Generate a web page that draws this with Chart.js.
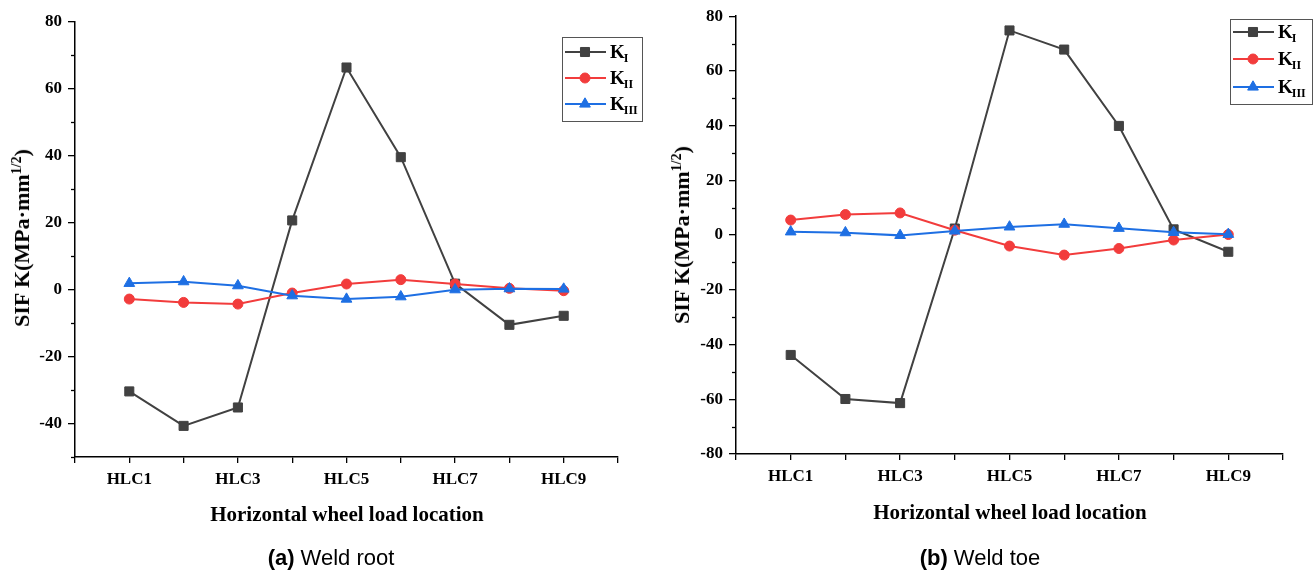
<!DOCTYPE html>
<html><head><meta charset="utf-8">
<script src="https://cdn.jsdelivr.net/npm/chart.js@4.4.0/dist/chart.umd.min.js"></script>
<style>
html,body{margin:0;padding:0;background:#fff;width:1315px;height:574px;overflow:hidden;}
.panel{position:absolute;top:0;height:574px;}
#pa{left:0;width:657px;}
#pb{left:660px;width:655px;}
canvas{position:absolute;left:0;top:0;}
.ytitle{position:absolute;font-family:"Liberation Serif",serif;font-weight:bold;font-size:22px;white-space:nowrap;transform:translate(-50%,-50%) rotate(-90deg);color:#000;}
.ytitle sup{font-size:14px;vertical-align:8px;line-height:0;}
.xtitle{position:absolute;font-family:"Liberation Serif",serif;font-weight:bold;font-size:21px;white-space:nowrap;transform:translate(-50%,-50%);color:#000;}
.cap{position:absolute;font-family:"Liberation Sans",Arial,sans-serif;font-size:22px;white-space:nowrap;transform:translate(-50%,-50%);color:#000;}
.cap b{margin-right:6px;}
</style>
</head><body>
<div class="panel" id="pa">
  <canvas id="ca" width="657" height="574"></canvas>
  <div class="ytitle" style="left:22px;top:238px;">SIF K(MPa·mm<sup>1/2</sup>)</div>
  <div class="xtitle" style="left:347px;top:514px;">Horizontal wheel load location</div>
  <div class="cap" style="left:331px;top:558px;"><b>(a)</b>Weld root</div>
</div>
<div class="panel" id="pb">
  <canvas id="cb" width="655" height="574"></canvas>
  <div class="ytitle" style="left:22px;top:235px;">SIF K(MPa·mm<sup>1/2</sup>)</div>
  <div class="xtitle" style="left:350px;top:512px;">Horizontal wheel load location</div>
  <div class="cap" style="left:320px;top:558px;"><b>(b)</b>Weld toe</div>
</div>
<script>
// ---- data ----
const categories = ['HLC1','HLC2','HLC3','HLC4','HLC5','HLC6','HLC7','HLC8','HLC9'];
const seriesNames = ['KI','KII','KIII'];
const seriesSubs = ['I','II','III'];
const rootKI   = [-30.4, -40.7, -35.2, 20.7, 66.4, 39.6, 1.8, -10.5, -7.8];
const rootKII  = [-2.8, -3.8, -4.3, -1.0, 1.7, 3.0, 1.7, 0.4, -0.3];
const rootKIII = [1.9, 2.4, 1.2, -1.8, -2.8, -2.1, 0.0, 0.3, 0.2];
const toeKI    = [-43.8, -59.9, -61.4, 2.4, 74.8, 67.8, 39.9, 2.1, -6.1];
const toeKII   = [5.5, 7.5, 8.1, 1.8, -4.0, -7.3, -4.9, -1.8, 0.2];
const toeKIII  = [1.2, 0.9, -0.1, 1.5, 3.0, 4.0, 2.5, 1.0, 0.3];
const rootYTicks = [-40, -20, 0, 20, 40, 60, 80];
const toeYTicks  = [-80, -60, -40, -20, 0, 20, 40, 60, 80];

// ---- styles ----
const colors = ['#414141', '#f23c3c', '#1e6fe3'];
const styles = ['rect', 'circle', 'triangle'];
const radii = [6.4, 5, 6.2];

function toPoints(arr){ return arr.map((v,i)=>({x:i+1, y:v})); }

function makeDatasets(a,b,c){
  return [a,b,c].map((arr,i)=>({
    label: seriesNames[i],
    sub: seriesSubs[i],
    data: toPoints(arr),
    borderColor: colors[i],
    backgroundColor: colors[i],
    pointBackgroundColor: colors[i],
    pointBorderColor: colors[i],
    pointStyle: styles[i],
    pointRadius: radii[i],
    pointBorderWidth: 1,
    borderWidth: 2,
    tension: 0,
    order: 3 - i
  }));
}

const legendPlugin = {
  id: 'kLegend',
  afterDraw(chart, args, o){
    const ctx = chart.ctx;
    ctx.save();
    ctx.strokeStyle = '#555';
    ctx.lineWidth = 1;
    ctx.strokeRect(o.x + 0.5, o.y + 0.5, o.w, o.h);
    chart.data.datasets.forEach((ds, i) => {
      const cy = o.y + o.rows[i];
      ctx.strokeStyle = ds.borderColor;
      ctx.fillStyle = ds.borderColor;
      ctx.lineWidth = 2;
      ctx.beginPath();
      ctx.moveTo(o.x + 3, cy);
      ctx.lineTo(o.x + 44, cy);
      ctx.stroke();
      ctx.lineWidth = 1;
      Chart.helpers.drawPoint(ctx, {pointStyle: ds.pointStyle, radius: ds.pointRadius, rotation: 0, borderWidth: 1}, o.x + 23, cy);
      ctx.fillStyle = '#000';
      ctx.textBaseline = 'alphabetic';
      ctx.textAlign = 'left';
      ctx.font = 'bold 19px "Liberation Serif"';
      ctx.fillText('K', o.x + 48, cy + 6);
      const kw = ctx.measureText('K').width;
      ctx.font = 'bold 12px "Liberation Serif"';
      ctx.fillText(ds.sub, o.x + 48 + kw - 1, cy + 10);
    });
    ctx.restore();
  }
};

// short minor ticks on the y axis between labelled ticks
const minorTickPlugin = {
  id: 'minorTicks',
  afterDraw(chart){
    const s = chart.scales.y;
    const ctx = chart.ctx;
    const left = chart.chartArea.left;
    ctx.save();
    ctx.strokeStyle = '#000';
    ctx.lineWidth = 1.3;
    for (let v = s.min; v <= s.max; v += 10){
      if (v % 20 === 0) continue;
      const py = Math.round(s.getPixelForValue(v)) + 0.5;
      ctx.beginPath();
      ctx.moveTo(left - 4, py);
      ctx.lineTo(left, py);
      ctx.stroke();
    }
    ctx.restore();
  }
};

function makeChart(id, datasets, yMin, yMax, yTicks, yW, xH, pad, legend){
  const tickFont = {family: 'Liberation Serif', weight: 'bold', size: 17};
  return new Chart(document.getElementById(id), {
    type: 'line',
    data: {datasets},
    plugins: [legendPlugin, minorTickPlugin],
    options: {
      responsive: false,
      animation: false,
      layout: {padding: pad},
      plugins: {legend: {display: false}, tooltip: {enabled: false}, kLegend: legend},
      scales: {
        x: {
          type: 'linear', min: 0, max: 10,
          ticks: {stepSize: 1, autoSkip: false, maxRotation: 0, color: '#000', font: tickFont, padding: 6,
            callback: v => (v >= 1 && v <= 9 && v % 2 === 1) ? categories[v - 1] : ''},
          grid: {drawOnChartArea: false, drawTicks: true, tickLength: 6, color: '#000', lineWidth: 1.3},
          border: {color: '#000', width: 1.5},
          afterFit: s => { s.height = xH; }
        },
        y: {
          min: yMin, max: yMax,
          afterBuildTicks: s => { s.ticks = yTicks.map(v => ({value: v})); },
          ticks: {autoSkip: false, color: '#000', font: tickFont, padding: 6,
            callback: v => String(v)},
          grid: {drawOnChartArea: false, drawTicks: true, tickLength: 7, color: '#000', lineWidth: 1.3},
          border: {color: '#000', width: 1.5},
          afterFit: s => { s.width = yW; }
        }
      }
    }
  });
}

makeChart('ca', makeDatasets(rootKI, rootKII, rootKIII), -50, 80, rootYTicks, 75, 117,
  {left: 0, right: 39, top: 22, bottom: 0},
  {x: 562, y: 37, w: 80, h: 84, rows: [15, 41, 67]});
makeChart('cb', makeDatasets(toeKI, toeKII, toeKIII), -80, 80, toeYTicks, 76, 120,
  {left: 0, right: 32, top: 16, bottom: 0},
  {x: 570, y: 19, w: 82, h: 85, rows: [13, 40, 68]});
</script>
</body></html>
